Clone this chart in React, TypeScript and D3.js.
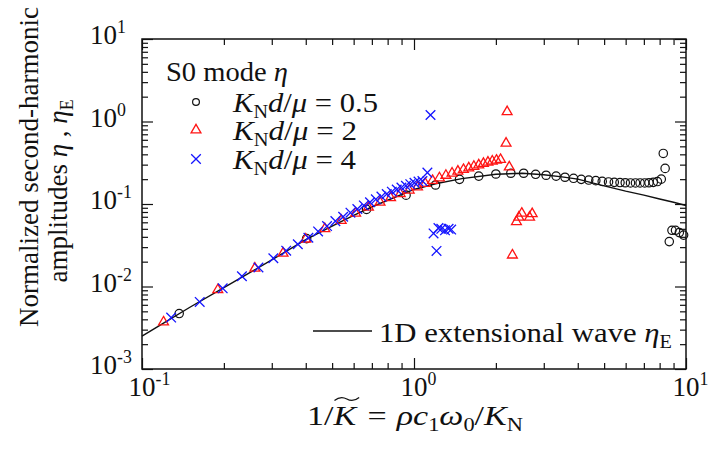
import { useEffect, useRef } from 'react';
import * as d3 from 'd3';

const INK = '#111111';
const RED = '#ff1414';
const BLUE = '#1414ff';
const FONT = '"Liberation Serif", "Times New Roman", Times, serif';

// 1D extensional wave eta_E (solid line)
const LINE_X = [0.1, 0.12, 0.15, 0.2, 0.25, 0.3, 0.4, 0.5, 0.6, 0.7, 0.8, 1.0, 1.2, 1.5, 2.0, 2.5, 3.0, 3.5, 4.0, 5.0, 6.0, 7.0, 8.0, 9.0, 10];
const LINE_Y = [0.0025, 0.0036, 0.0056, 0.0097, 0.0148, 0.021, 0.037, 0.054, 0.073, 0.092, 0.111, 0.15, 0.176, 0.203, 0.229, 0.236, 0.226, 0.213, 0.2, 0.166, 0.143, 0.128, 0.115, 0.105, 0.096];

// KNd/mu = 0.5 (open circles)
const CIRCLE_X = [0.137, 0.403, 0.669, 0.935, 1.2, 1.47, 1.73, 2.0, 2.27, 2.53, 2.8, 3.06, 3.33, 3.59, 3.86, 4.12, 4.39, 4.66, 4.92, 5.19, 5.45, 5.72, 5.98, 6.25, 6.52, 6.78, 7.05, 7.31, 7.58, 7.85, 8.11, 8.25, 8.38, 8.68, 8.88, 9.15, 9.45, 9.8];
const CIRCLE_Y = [0.0047, 0.038, 0.086, 0.128, 0.17, 0.199, 0.218, 0.231, 0.236, 0.236, 0.229, 0.223, 0.218, 0.211, 0.205, 0.199, 0.195, 0.192, 0.188, 0.185, 0.183, 0.182, 0.181, 0.18, 0.18, 0.18, 0.18, 0.181, 0.183, 0.187, 0.2, 0.41, 0.27, 0.035, 0.048, 0.048, 0.045, 0.042];

// KNd/mu = 2 (red triangles)
const TRI_X = [0.12, 0.19, 0.26, 0.33, 0.4, 0.47, 0.54, 0.61, 0.68, 0.75, 0.82, 0.89, 0.96, 1.03, 1.1, 1.17, 1.24, 1.31, 1.38, 1.45, 1.52, 1.59, 1.66, 1.73, 1.8, 1.87, 1.94, 2.01, 2.08, 2.18, 2.2, 2.24, 2.3, 2.38, 2.43, 2.49, 2.66, 2.72];
const TRI_Y = [0.0037, 0.0091, 0.0166, 0.0253, 0.0375, 0.05, 0.063, 0.077, 0.091, 0.105, 0.119, 0.133, 0.147, 0.161, 0.177, 0.192, 0.207, 0.222, 0.236, 0.249, 0.261, 0.273, 0.285, 0.297, 0.309, 0.32, 0.33, 0.338, 0.345, 0.544, 1.31, 0.28, 0.024, 0.061, 0.069, 0.077, 0.069, 0.076];

// KNd/mu = 4 (blue crosses)
const CROSS_X = [0.128, 0.163, 0.198, 0.233, 0.268, 0.304, 0.339, 0.374, 0.409, 0.444, 0.479, 0.514, 0.549, 0.584, 0.619, 0.654, 0.689, 0.724, 0.759, 0.794, 0.829, 0.864, 0.899, 0.934, 0.969, 1.004, 1.039, 1.074, 1.12, 1.15, 1.18, 1.21, 1.23, 1.26, 1.3, 1.34, 1.37];
const CROSS_Y = [0.0042, 0.0065, 0.0095, 0.0133, 0.017, 0.022, 0.0272, 0.0325, 0.039, 0.0465, 0.054, 0.062, 0.07, 0.0785, 0.087, 0.096, 0.105, 0.114, 0.123, 0.132, 0.141, 0.15, 0.158, 0.166, 0.174, 0.181, 0.187, 0.19, 0.24, 1.2, 0.044, 0.027, 0.051, 0.05, 0.048, 0.05, 0.049];

const X_MAJOR = [0.1, 1, 10];
const X_EXP = ['-1', '0', '1'];
const Y_MAJOR = [10, 1, 0.1, 0.01, 0.001];
const Y_EXP = ['1', '0', '-1', '-2', '-3'];

const LEGEND_VALUES = ['0.5', '2', '4'];
const LEGEND_WIDTHS = [145, 124, 123];

type Part = { t: string; it?: boolean; sub?: boolean; sup?: boolean; dx?: number };

function rich(sel: d3.Selection<SVGTextElement, unknown, null, undefined>, parts: Part[], size: number) {
  let shift = 0;
  parts.forEach((p) => {
    const target = p.sub ? size * 0.24 : p.sup ? -size * 0.4 : 0;
    const ts = sel.append('tspan').text(p.t).attr('dy', target - shift);
    shift = target;
    if (p.dx) ts.attr('dx', p.dx);
    if (p.it) ts.attr('font-style', 'italic');
    if (p.sub || p.sup) ts.attr('font-size', size * 0.66);
  });
}

const crossPath = (s: number) => `M${-s},${-s}L${s},${s}M${-s},${s}L${s},${-s}`;

export default function App() {
  const ref = useRef<SVGSVGElement>(null);

  useEffect(() => {
    const svg = d3.select(ref.current);
    if (!svg.node()) return;
    svg.selectAll('*').remove();

    const left = 142;
    const right = 686;
    const top = 39;
    const bottom = 369;
    const x = d3.scaleLog().domain([0.1, 10]).range([left, right]);
    const y = d3.scaleLog().domain([0.001, 10]).range([bottom, top]);

    const isMajor = (list: number[]) => (v: number) => list.some((m) => Math.abs(v - m) / m < 1e-6);
    const xMinor = x.ticks().filter((v) => !isMajor(X_MAJOR)(v));
    const yMinor = y.ticks().filter((v) => !isMajor(Y_MAJOR)(v));

    const styleAxis = (sel: d3.Selection<SVGGElement, unknown, null, undefined>) => {
      sel.select('.domain').remove();
      sel.selectAll('text').remove();
      sel.selectAll('.tick line').attr('stroke', INK).attr('stroke-width', 1.2);
    };

    const axes: [any, string][] = [
      [d3.axisBottom(x), `translate(0,${bottom})`],
      [d3.axisTop(x), `translate(0,${top})`],
    ];
    axes.forEach(([ax, tr]) => {
      svg.append('g').attr('transform', tr).call(ax.tickValues(X_MAJOR).tickSize(-11)).call(styleAxis);
      svg.append('g').attr('transform', tr).call(ax.tickValues(xMinor).tickSize(-6)).call(styleAxis);
    });
    const yAxes: [any, string][] = [
      [d3.axisLeft(y), `translate(${left},0)`],
      [d3.axisRight(y), `translate(${right},0)`],
    ];
    yAxes.forEach(([ax, tr]) => {
      svg.append('g').attr('transform', tr).call(ax.tickValues(Y_MAJOR).tickSize(-11)).call(styleAxis);
      svg.append('g').attr('transform', tr).call(ax.tickValues(yMinor).tickSize(-6)).call(styleAxis);
    });

    svg
      .append('rect')
      .attr('x', left)
      .attr('y', top)
      .attr('width', right - left)
      .attr('height', bottom - top)
      .attr('fill', 'none')
      .attr('stroke', INK)
      .attr('stroke-width', 1.5);

    // tick labels
    X_MAJOR.forEach((v, i) => {
      const t = svg
        .append('text')
        .attr('x', x(v) - 13.5)
        .attr('y', 396)
        .attr('font-family', FONT)
        .attr('font-size', 27)
        .attr('fill', INK);
      rich(t, [{ t: '10' }, { t: X_EXP[i], sup: true }], 27);
    });
    Y_MAJOR.forEach((v, i) => {
      const t = svg
        .append('text')
        .attr('x', 90)
        .attr('y', y(v) + 5)
        .attr('font-family', FONT)
        .attr('font-size', 27)
        .attr('fill', INK);
      rich(t, [{ t: '10' }, { t: Y_EXP[i], sup: true }], 27);
    });

    // data
    const line = d3
      .line<number>()
      .x((d) => x(d))
      .y((_, i) => y(LINE_Y[i]));
    svg
      .append('path')
      .attr('d', line(LINE_X))
      .attr('fill', 'none')
      .attr('stroke', INK)
      .attr('stroke-width', 1.4);

    svg
      .append('g')
      .selectAll('circle')
      .data(CIRCLE_X)
      .join('circle')
      .attr('cx', (d) => x(d))
      .attr('cy', (_, i) => y(CIRCLE_Y[i]))
      .attr('r', 4.2)
      .attr('fill', 'none')
      .attr('stroke', INK)
      .attr('stroke-width', 1.2);

    const tri = d3.symbol(d3.symbolTriangle, 42)();
    svg
      .append('g')
      .selectAll('path')
      .data(TRI_X)
      .join('path')
      .attr('transform', (d, i) => `translate(${x(d)},${y(TRI_Y[i])})`)
      .attr('d', tri)
      .attr('fill', 'none')
      .attr('stroke', RED)
      .attr('stroke-width', 1.3);

    svg
      .append('g')
      .selectAll('path')
      .data(CROSS_X)
      .join('path')
      .attr('transform', (d, i) => `translate(${x(d)},${y(CROSS_Y[i])})`)
      .attr('d', crossPath(4.8))
      .attr('fill', 'none')
      .attr('stroke', BLUE)
      .attr('stroke-width', 1.3);

    // legend
    const lg = svg.append('g').attr('font-family', FONT).attr('fill', INK).style('white-space', 'pre');
    const head = lg
      .append('text')
      .attr('x', 166)
      .attr('y', 81)
      .attr('font-size', 27)
      .attr('textLength', 122)
      .attr('lengthAdjust', 'spacingAndGlyphs');
    rich(head, [{ t: 'S0 mode ' }, { t: 'η', it: true }], 27);

    const rowY = [102, 130, 159];
    LEGEND_VALUES.forEach((val, i) => {
      const t = lg
        .append('text')
        .attr('x', 233)
        .attr('y', rowY[i] + 10)
        .attr('font-size', 27)
        .attr('textLength', LEGEND_WIDTHS[i])
        .attr('lengthAdjust', 'spacingAndGlyphs');
      rich(t, [{ t: 'K', it: true }, { t: 'N', sub: true }, { t: 'd', it: true }, { t: '/' }, { t: 'μ', it: true }, { t: ' = ' + val }], 27);
    });
    lg.append('circle').attr('cx', 196).attr('cy', rowY[0]).attr('r', 3.4).attr('fill', 'none').attr('stroke', INK).attr('stroke-width', 1.2);
    lg.append('path').attr('transform', `translate(196,${rowY[1]})`).attr('d', tri).attr('fill', 'none').attr('stroke', RED).attr('stroke-width', 1.3);
    lg.append('path').attr('transform', `translate(196,${rowY[2]})`).attr('d', crossPath(4.8)).attr('fill', 'none').attr('stroke', BLUE).attr('stroke-width', 1.3);

    lg.append('line').attr('x1', 313).attr('x2', 372).attr('y1', 331).attr('y2', 331).attr('stroke', INK).attr('stroke-width', 1.4);
    const lt = lg
      .append('text')
      .attr('x', 379)
      .attr('y', 342)
      .attr('font-size', 27)
      .attr('textLength', 293)
      .attr('lengthAdjust', 'spacingAndGlyphs');
    rich(lt, [{ t: '1D extensional wave ' }, { t: 'η', it: true }, { t: 'E', sub: true }], 27);

    // axis titles
    const titles = svg.append('g').attr('font-family', FONT).attr('fill', INK).style('white-space', 'pre');
    const y1 = titles.append('text').attr('transform', 'translate(38,167) rotate(-90)').attr('text-anchor', 'middle').attr('font-size', 27);
    rich(y1, [{ t: 'Normalized second-harmonic' }], 27);
    const y2 = titles.append('text').attr('transform', 'translate(67,191) rotate(-90)').attr('text-anchor', 'middle').attr('font-size', 27);
    rich(y2, [{ t: 'amplitudes ' }, { t: 'η', it: true }, { t: ' , ' }, { t: 'η', it: true }, { t: 'E', sub: true }], 27);

    const xt = titles
      .append('text')
      .attr('x', 415)
      .attr('y', 425)
      .attr('text-anchor', 'middle')
      .attr('font-size', 27)
      .attr('textLength', 216)
      .attr('lengthAdjust', 'spacingAndGlyphs');
    rich(
      xt,
      [
        { t: '1/' },
        { t: 'K', it: true },
        { t: '=', dx: 9 },
        { t: 'ρ', it: true, dx: 8 },
        { t: 'c', it: true },
        { t: '1', sub: true },
        { t: 'ω', it: true },
        { t: '0', sub: true },
        { t: '/' },
        { t: 'K', it: true },
        { t: 'N', sub: true },
      ],
      27,
    );
    const node = xt.node() as SVGTextElement;
    try {
      const k = node.getExtentOfChar(2);
      const x0 = k.x + 1;
      const w = k.width + 2;
      const ty = k.y - 2;
      titles
        .append('path')
        .attr(
          'd',
          `M${x0},${ty + 1.5}Q${x0 + w / 4},${ty - 3.5} ${x0 + w / 2},${ty}Q${x0 + (3 * w) / 4},${ty + 3.5} ${x0 + w},${ty - 1.5}`,
        )
        .attr('fill', 'none')
        .attr('stroke', INK)
        .attr('stroke-width', 1.2);
    } catch (e) {
      // ignore
    }
  }, []);

  return (
    <svg
      ref={ref}
      width={711}
      height={457}
      style={{ position: 'absolute', left: 0, top: 0, background: '#ffffff' }}
    />
  );
}
